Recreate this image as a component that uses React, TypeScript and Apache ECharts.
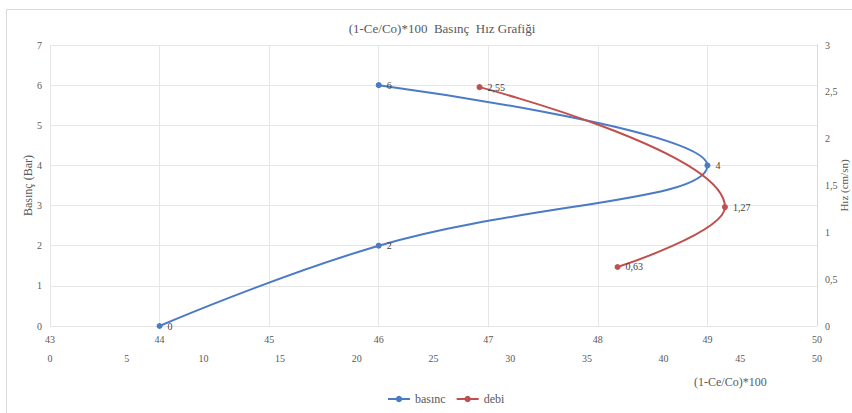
import React, { useEffect, useRef } from "react";
import * as echarts from "echarts";

const basincX = [44, 46, 49, 46];
const basincY = [0, 2, 4, 6];
const debiX = [37, 44, 28];
const debiY = [0.63, 1.27, 2.55];
const titleText = "(1-Ce/Co)*100  Basınç  Hız Grafiği";
const xName = "(1-Ce/Co)*100";
const leftName = "Basınç (Bar)";
const rightName = "Hız (cm/sn)";

const FONT = "Liberation Serif";
const fmt = (v: number) => String(v).replace(".", ",");

export default function App() {
  const ref = useRef<HTMLDivElement>(null);
  useEffect(() => {
    document.body.style.margin = "0";
    const chart = echarts.init(ref.current!, null, { renderer: "svg" });
    const labelStyle = { color: "#595959", fontFamily: FONT, fontSize: 10 };
    chart.setOption({
      animation: false,
      textStyle: { fontFamily: FONT },
      title: {
        text: titleText,
        left: 437,
        textAlign: "center",
        top: 17,
        textStyle: { fontFamily: FONT, fontSize: 13, fontWeight: "normal", color: "#595959" },
      },
      graphic: [
        {
          type: "rect",
          shape: { x: 6.5, y: 9.5, width: 860, height: 420 },
          style: { fill: "none", stroke: "#d9d9d9", lineWidth: 1 },
          silent: true,
        },
        {
          type: "text",
          left: 694,
          top: 376,
          style: { text: xName, fontFamily: FONT, fontSize: 12, fill: "#595959" },
        },
      ],
      legend: {
        bottom: 3,
        left: 382,
        itemWidth: 22,
        itemHeight: 8,
        itemGap: 10,
        textStyle: { fontFamily: FONT, fontSize: 12, color: "#595959" },
        data: ["basınc", "debi"],
      },
      grid: { left: 50, right: 35, top: 45, bottom: 87, containLabel: false, outerBoundsMode: "none" },
      xAxis: [
        {
          type: "value",
          min: 43,
          max: 50,
          interval: 1,
          position: "bottom",
          axisLine: { show: false },
          axisTick: { show: false },
          axisLabel: { ...labelStyle, margin: 8 },
          splitLine: { show: true, lineStyle: { color: "#e6e6e6" } },
        },
        {
          type: "value",
          min: 0,
          max: 50,
          interval: 5,
          position: "bottom",
          offset: 19,
          axisLine: { show: false },
          axisTick: { show: false },
          axisLabel: { ...labelStyle, margin: 8 },
          splitLine: { show: false },
        },
      ],
      yAxis: [
        {
          type: "value",
          min: 0,
          max: 7,
          interval: 1,
          position: "left",
          name: leftName,
          nameLocation: "middle",
          nameGap: 16,
          nameMoveOverlap: false,
          nameTextStyle: { fontFamily: FONT, fontSize: 12, color: "#595959" },
          axisLine: { show: false },
          axisTick: { show: false },
          axisLabel: { ...labelStyle, margin: 8 },
          splitLine: { show: true, lineStyle: { color: "#e6e6e6" } },
        },
        {
          type: "value",
          min: 0,
          max: 3,
          interval: 0.5,
          position: "right",
          name: rightName,
          nameLocation: "middle",
          nameGap: 21,
          nameRotate: 90,
          nameMoveOverlap: false,
          nameTextStyle: { fontFamily: FONT, fontSize: 11, color: "#595959" },
          axisLine: { show: true, lineStyle: { color: "#d9d9d9" } },
          axisTick: { show: false },
          axisLabel: { ...labelStyle, margin: 8, formatter: (v: number) => fmt(v) },
          splitLine: { show: false },
        },
      ],
      series: [
        {
          name: "basınc",
          type: "line",
          xAxisIndex: 0,
          yAxisIndex: 0,
          smooth: 0.45,
          symbol: "circle",
          symbolSize: 6,
          color: "#4a7bc4",
          lineStyle: { width: 2, color: "#4a7bc4" },
          label: {
            show: true,
            position: "right",
            distance: 5,
            fontFamily: FONT,
            fontSize: 10,
            color: "#404040",
            formatter: (p: any) => fmt(p.value[1]),
          },
          data: basincX.map((x, i) => [x, basincY[i]]),
        },
        {
          name: "debi",
          type: "line",
          xAxisIndex: 1,
          yAxisIndex: 1,
          smooth: 0.45,
          symbol: "circle",
          symbolSize: 6,
          color: "#c0504d",
          lineStyle: { width: 2, color: "#c0504d" },
          label: {
            show: true,
            position: "right",
            distance: 5,
            fontFamily: FONT,
            fontSize: 10,
            color: "#404040",
            formatter: (p: any) => fmt(p.value[1]),
          },
          data: debiX.map((x, i) => [x, debiY[i]]),
        },
      ],
    });
    return () => chart.dispose();
  }, []);
  return <div ref={ref} style={{ width: 852, height: 413 }} />;
}
